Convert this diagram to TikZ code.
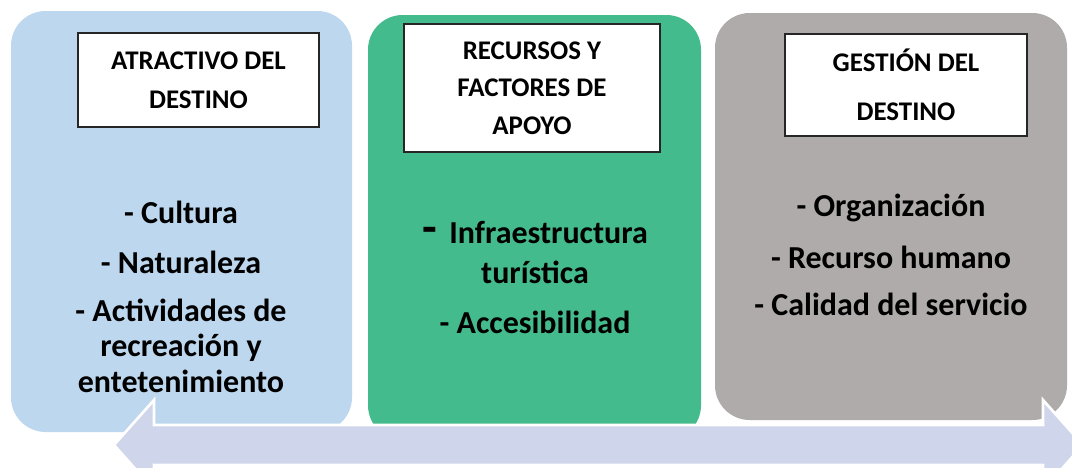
\documentclass[tikz,border=0pt]{standalone}
\usepackage{fontspec}
\setmainfont{Carlito}
\usetikzlibrary{positioning}
\definecolor{panelblue}{HTML}{BDD7EE}
\definecolor{panelgreen}{HTML}{44BB8C}
\definecolor{panelgray}{HTML}{AFABAA}
\definecolor{arrowlav}{HTML}{CFD5EA}
\begin{document}
\begin{tikzpicture}[x=0.75pt,y=-0.75pt,
		panel/.style={rounded corners=26pt},
		titlebox/.style={draw=black!85, line width=0.8pt, fill=white, inner sep=0pt, align=center, font=\bfseries\fontsize{20.2}{29.25}\selectfont},
		item/.style={align=center, inner sep=0pt, font=\bfseries\fontsize{24}{26.6}\selectfont}]
			\useasboundingbox (0,0) rectangle (1072,468);
			\clip (0,0) rectangle (1072,468);
			% panels
			\fill [panelblue, panel] (11,11) rectangle (352,432);
			\fill [panelgreen, panel] (368,15) rectangle (701,440);
			\fill [panelgray, panel] (715,13) rectangle (1067,420);
			% double arrow
			\fill [arrowlav, draw=white, line width=2pt] (114,445) -- (154,400) -- (154,425) -- (1043,425) -- (1043,400) -- (1083,445) -- (1043,490) -- (1043,465) -- (154,465) -- (154,490) -- cycle;
			% titles
			\node [titlebox, minimum width=180.75pt, minimum height=70.5pt] (atractivo) at (198.5,80) {ATRACTIVO DEL\\DESTINO};
			\node [titlebox, minimum width=192pt, minimum height=96pt, font=\bfseries\fontsize{20.2}{28.1}\selectfont] (recursos) at (532,88) {RECURSOS Y\\FACTORES DE\\APOYO};
			\node [titlebox, minimum width=181.5pt, minimum height=76.5pt, font=\bfseries\fontsize{20.2}{36.75}\selectfont] (gestion) at (906,85) {GESTIÓN DEL\\DESTINO};
			% items
			\node [item] (cultura) at (181,212) {- Cultura};
			\node [item] (naturaleza) at (181,262) {- Naturaleza};
			\node [item] (actividades) at (181,345.5) {- Actividades de\\recreación y\\entetenimiento};
			\node [item, font=\bfseries\fontsize{24}{30}\selectfont] (infra) at (535,252) {{\fontsize{36}{30}\selectfont -}\, Infraestructura\\turística};
			\node [item] (acces) at (535,322) {- Accesibilidad};
			\node [item] (organiz) at (891,208) {- Organización};
			\node [item] (rhumano) at (891,257) {- Recurso humano};
			\node [item] (calidad) at (891,304) {- Calidad del servicio};
\end{tikzpicture}
\end{document}
